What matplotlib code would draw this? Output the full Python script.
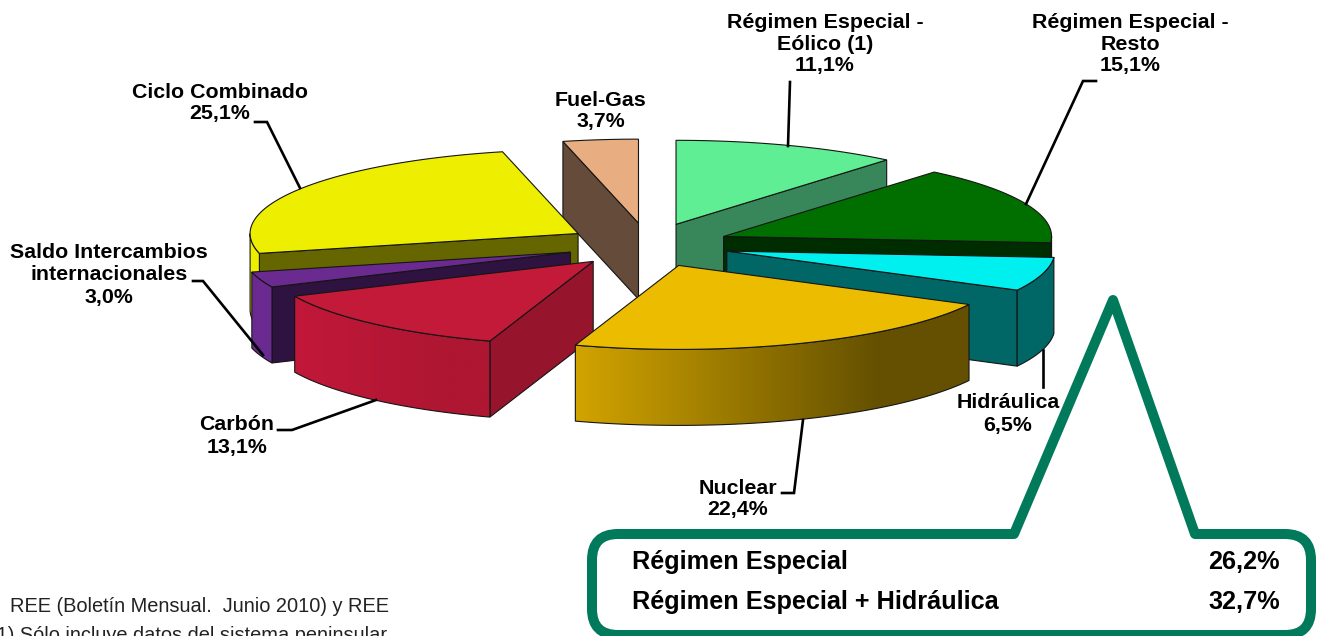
import numpy as np
import matplotlib
matplotlib.use('Agg')
import matplotlib.pyplot as plt
from matplotlib.path import Path
from matplotlib.patches import PathPatch, Polygon
from matplotlib.colors import to_rgb

plt.rcParams['font.family'] = ['Liberation Sans', 'DejaVu Sans']

# datos (% generacion), en sentido horario desde las 12
nombres = ['Régimen Especial -\nEólico (1)', 'Régimen Especial -\nResto', 'Hidráulica', 'Nuclear',
           'Carbón', 'Saldo Intercambios\ninternacionales', 'Ciclo Combinado', 'Fuel-Gas']
valores = [11.1, 15.1, 6.5, 22.4, 13.1, 3.0, 25.1, 3.7]
resumen_nombres = ['Régimen Especial', 'Régimen Especial + Hidráulica']
resumen_valores = [26.2, 32.7]

# colores: tapa, cara radial, pared curva (izquierda -> derecha)
tapa = ['#5FEE93', '#006F00', '#00F0F0', '#ECBC00', '#C21A38', '#6A2A90', '#EEEE00', '#E8AE82']
radial = ['#38875A', '#002D00', '#006666', '#665000', '#96142C', '#2E1240', '#666600', '#644B3A']
pared_izq = ['#38875A', '#006F00', '#006666', '#D2A400', '#C2183A', '#6A2A90', '#EEEE00', '#644B3A']
pared_der = ['#38875A', '#006F00', '#006666', '#645000', '#AE1632', '#6A2A90', '#EEEE00', '#644B3A']
orden = [7, 0, 6, 1, 5, 2, 4, 3]  # de atras hacia delante

# etiqueta: centro x, centro y ; linea guia
pos_texto = [(825, 44), (1130, 44), (1008, 414), (738, 499), (237, 436), (109, 275), (220, 103), (601, 111)]
guias = [[(790, 82), (788, 146)],
         [(1096, 81), (1083, 81), (1026, 204)],
         [(1043, 350), (1043, 387)],
         [(782, 493), (794, 493), (803, 420)],
         [(278, 430), (292, 430), (376, 400)],
         [(193, 281), (203, 281), (263, 355)],
         [(255, 122), (267, 122), (300, 188)],
         None]

CX, CY = 648, 245
RX, RY = 328, 84
ALTO = 76
EXP_X, EXP_Y = 82, 22
BORDE = '#151515'

fig = plt.figure(figsize=(13.17, 6.36), dpi=100)
ax = fig.add_axes([0, 0, 1, 1])
ax.axis('off')


def punto(x0, y0, ang):
    a = np.radians(ang)
    return x0 + RX * np.sin(a), y0 - RY * np.cos(a)


def cara_radial(x0, y0, ang, color, z):
    x, y = punto(x0, y0, ang)
    ax.fill([x0, x, x, x0], [y0, y, y + ALTO, y0 + ALTO], facecolor=color, edgecolor=BORDE, lw=0.8, zorder=z)


def pared_curva(x0, y0, v0, v1, c_izq, c_der, z):
    angs = np.linspace(v0, v1, 81)
    xs, ys = punto(x0, y0, angs)
    contorno = np.c_[np.r_[xs, xs[::-1]], np.r_[ys + ALTO, ys[::-1]]]
    # degradado horizontal recortado con la forma de la pared
    t = np.interp(np.linspace(0, 1, 256), [0, 0.77, 1], [0, 1, 1])[:, None]
    grad = (np.array(to_rgb(c_izq)) + (np.array(to_rgb(c_der)) - np.array(to_rgb(c_izq))) * t)[None, :, :]
    im = ax.imshow(grad, extent=(xs.min(), xs.max(), contorno[:, 1].max(), contorno[:, 1].min()),
                   aspect='auto', zorder=z)
    forma = Polygon(contorno, closed=True, facecolor='none', edgecolor=BORDE, lw=0.8, zorder=z)
    ax.add_patch(forma)
    im.set_clip_path(forma)


fin = np.cumsum(valores) / np.sum(valores) * 360
ini = fin - np.array(valores) / np.sum(valores) * 360

z = 2
for i in orden:
    a0, a1 = ini[i], fin[i]
    medio = np.radians((a0 + a1) / 2)
    x0 = CX + EXP_X * np.sin(medio)
    y0 = CY - EXP_Y * np.cos(medio)

    # caras radiales visibles
    if 180 < a0 < 360:
        cara_radial(x0, y0, a0, radial[i], z)
    if 0 < a1 < 180:
        cara_radial(x0, y0, a1, radial[i], z)

    # pared curva visible (90 a 270 grados)
    v0, v1 = max(a0, 90), min(a1, 270)
    if v1 > v0:
        pared_curva(x0, y0, v0, v1, pared_izq[i], pared_der[i], z)

    # tapa
    xs, ys = punto(x0, y0, np.linspace(a0, a1, 61))
    ax.fill(np.r_[x0, xs], np.r_[y0, ys], facecolor=tapa[i], edgecolor=BORDE, lw=0.8, zorder=z)
    z += 1

ax.set_xlim(0, 1317)
ax.set_ylim(636, 0)

# lineas guia
for g in guias:
    if g is not None:
        ax.plot([p[0] for p in g], [p[1] for p in g], color='black', lw=1.9, solid_joinstyle='miter', zorder=30)

# etiquetas
for i in range(len(nombres)):
    txt = nombres[i] + '\n' + f'{valores[i]:.1f}'.replace('.', ',') + '%'
    ax.text(pos_texto[i][0], pos_texto[i][1], txt, ha='center', va='center', fontsize=15.4,
            fontweight='bold', linespacing=1.2, zorder=50)

# recuadro verde con pico
L, R, T, B = 592, 1311, 534, 635
PX, PY = 1113, 300
BI, BD = 1014, 1195
r = 26
verts = [(L + r, T), (BI, T), (PX, PY), (BD, T), (R - r, T), (R, T), (R, T + r), (R, B - r), (R, B), (R - r, B),
         (L + r, B), (L, B), (L, B - r), (L, T + r), (L, T), (L + r, T), (L + r, T)]
codes = [Path.MOVETO, Path.LINETO, Path.LINETO, Path.LINETO, Path.LINETO, Path.CURVE3, Path.CURVE3, Path.LINETO,
         Path.CURVE3, Path.CURVE3, Path.LINETO, Path.CURVE3, Path.CURVE3, Path.LINETO, Path.CURVE3, Path.CURVE3,
         Path.CLOSEPOLY]
ax.add_patch(PathPatch(Path(verts, codes), facecolor='none', edgecolor='#007A5A', lw=7.2, joinstyle='round',
                       clip_on=False, zorder=40))

for nom, val, y in zip(resumen_nombres, resumen_valores, [569, 609]):
    ax.text(632, y, nom, ha='left', va='baseline', fontsize=18.2, fontweight='bold', zorder=50)
    ax.text(1280, y, f'{val:.1f}'.replace('.', ',') + '%', ha='right', va='baseline', fontsize=18.2,
            fontweight='bold', zorder=50)

# notas (cortadas en el original)
ax.text(389, 612, 'REE (Boletín Mensual.  Junio 2010) y REE', ha='right', va='baseline', fontsize=14.4,
        color='#222222')
ax.text(387, 641, '(1) Sólo incluye datos del sistema peninsular', ha='right', va='baseline', fontsize=14.4,
        color='#222222')

plt.savefig('out.png', dpi=100, facecolor='white')
